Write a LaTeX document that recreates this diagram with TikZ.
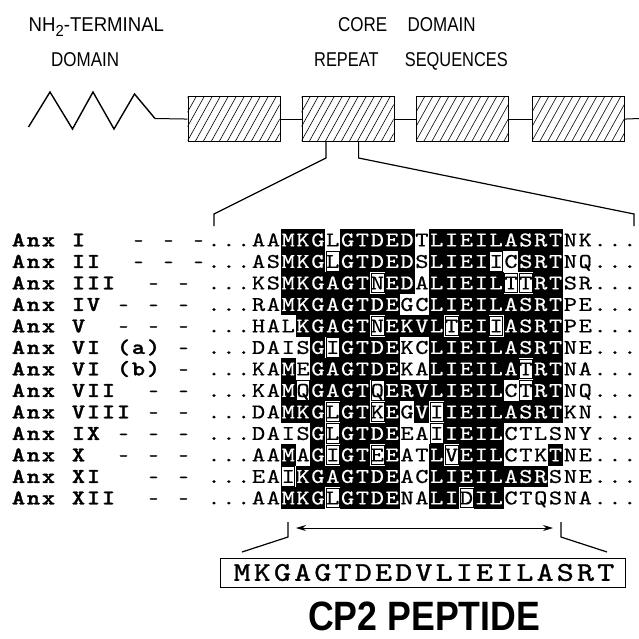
\documentclass[tikz,border=0pt]{standalone}
\usepackage{fontspec}
\usetikzlibrary{arrows.meta}
\newfontfamily\helv{Liberation Sans}
\newfontfamily\labfont{lmmonolt10-bold}[Extension=.otf, FakeBold=1.2]
\newfontfamily\seqfont{lmmono10-regular}[Extension=.otf, FakeBold=0.5]
\newfontfamily\pepfont{lmmono10-regular}[Extension=.otf, FakeBold=1.0]
\newcount\gj
\def\rk{0}
% ---- alignment cells ----
\def\seqrow#1#2#3{\global\gj=0 \def\rk{#1}\seqparse#2\relax#3\relax}
\def\seqparse#1#2\relax#3#4\relax{\seqcell{#1}{#3}\global\advance\gj by 1 \def\tmpa{#2}\ifx\tmpa\empty\else\seqparse#2\relax#4\relax\fi}
\def\seqcell#1#2{%
  \pgfmathsetmacro\cx{214+14.85*\the\gj}%
  \pgfmathsetmacro\cy{240+21.5*\rk}%
  \edef\nm{s\rk-\the\gj}%
  \if#2B\relax
    \fill[black] (\cx-7.5,\cy-10.9) rectangle (\cx+7.5,\cy+10.9);
    \node[seqw] (\nm) at (\cx,\cy) {\scalebox{1.2}[1]{#1}};
  \else
    \if#2O\relax
      \draw[obox] (\cx-6.5,\cy-9.8) rectangle (\cx+6.5,\cy+9.8);
    \fi
    \node[seqb] (\nm) at (\cx,\cy) {\scalebox{1.2}[1]{#1}};
  \fi}
% ---- labels ----
\def\labrow#1#2{\global\gj=0 \def\rk{#1}\labparse#2\relax}
\def\labparse#1#2\relax{\labcell{#1}\global\advance\gj by 1 \def\tmpa{#2}\ifx\tmpa\empty\else\labparse#2\relax\fi}
\def\labcell#1{%
  \pgfmathsetmacro\cx{18.5+15*\the\gj}%
  \pgfmathsetmacro\cy{240+21.5*\rk}%
  \edef\nm{l\rk-\the\gj}%
  \if#1_\relax\else
    \if#1-\relax\node[labd] (\nm) at (\cx,\cy) {-};\else\node[labb] (\nm) at (\cx,\cy) {\scalebox{1.2}[1]{#1}};\fi
  \fi}
% ---- peptide ----
\def\peprow#1{\global\gj=0 \pepparse#1\relax}
\def\pepparse#1#2\relax{\pepcell{#1}\global\advance\gj by 1 \def\tmpa{#2}\ifx\tmpa\empty\else\pepparse#2\relax\fi}
\def\pepcell#1{%
  \pgfmathsetmacro\cx{242.1+20.2*\the\gj}%
  \edef\nm{p\the\gj}%
  \node[pep] (\nm) at (\cx,572.5) {\scalebox{1.2}[1]{#1}};}
\tikzset{
  seqb/.style={inner sep=0pt, text height=12.8pt, text depth=0pt, font=\seqfont\fontsize{21}{21}\selectfont},
  seqw/.style={seqb, text=white},
  obox/.style={draw=black, line width=0.7pt},
  labb/.style={inner sep=0pt, text height=12.8pt, text depth=0pt, font=\labfont\fontsize{21}{21}\selectfont},
  labd/.style={inner sep=0pt, text height=12.8pt, text depth=0pt, font=\seqfont\fontsize{18}{18}\selectfont},
  pep/.style={inner sep=0pt, text height=16.5pt, text depth=0pt, font=\pepfont\fontsize{27}{27}\selectfont},
  ttl/.style={inner sep=0pt, anchor=west, text height=14.3pt, text depth=0pt, font=\helv\fontsize{20}{20}\selectfont},
  repbox/.style={draw=black, line width=1.1pt, minimum width=92pt, minimum height=45pt, inner sep=0pt, anchor=north west},
  hatch/.style={line width=0.6pt},
  conn/.style={line width=1pt},
  brk/.style={line width=1.2pt},
}
\begin{document}
\begin{tikzpicture}[x=1pt,y=-1pt]
\useasboundingbox[fill=white] (0,0) rectangle (639,638);
% titles
\node[ttl] (t1) at (28.5,24) {\scalebox{0.93}[1]{NH\raisebox{-0.28em}{\fontsize{16}{16}\selectfont 2}-TERMINAL}};
\node[ttl] (t2) at (51,59) {\scalebox{0.85}[1]{DOMAIN}};
\node[ttl] (t3) at (338,24) {\scalebox{0.85}[1]{CORE\hspace{24pt}DOMAIN}};
\node[ttl] (t4) at (314,59) {\scalebox{0.82}[1]{REPEAT\hspace{32pt}SEQUENCES}};
% domain diagram
\foreach \bx/\nm in {187.5/b1, 301.5/b2, 416/b3, 532/b4}{
  \node[repbox] (\nm) at (\bx,96) {};
  \begin{scope}
    \clip (\bx,96) rectangle ++(92,45);
    \foreach \t in {-32,-24,...,100} \draw[hatch] (\bx+\t,141) -- ++(25,-45);
  \end{scope}
}
\coordinate (z0) at (28.5,127);
\coordinate (z1) at (50,92);
\coordinate (z2) at (72.5,129);
\coordinate (z3) at (93,92);
\coordinate (z4) at (114,129);
\coordinate (z5) at (134.5,94);
\coordinate (z6) at (155,118.5);
\draw[line width=1.4pt, line join=miter] (z0) -- (z1) -- (z2) -- (z3) -- (z4) -- (z5) -- (z6);
\coordinate (endR) at (639,118.5);
\draw[conn] (z6) -- (b1.west);
\draw[conn] (b1.east) -- (b2.west);
\draw[conn] (b2.east) -- (b3.west);
\draw[conn] (b3.east) -- (b4.west);
\draw[conn] (b4.east) -- (endR);
% zoom bracket
\coordinate (ta) at (326,141);
\coordinate (tb) at (326,158);
\coordinate (tc) at (358.6,141);
\coordinate (td) at (358.6,158);
\coordinate (la) at (214,214);
\coordinate (lb) at (214,226);
\coordinate (ra) at (634,214);
\coordinate (rb) at (634,226);
\draw[brk] (ta) -- (tb) -- (la) -- (lb);
\draw[brk] (tc) -- (td) -- (ra) -- (rb);
% labels
\labrow{0}{Anx_I___-_-_-}
\labrow{1}{Anx_II__-_-_-}
\labrow{2}{Anx_III__-_-}
\labrow{3}{Anx_IV_-_-_-}
\labrow{4}{Anx_V__-_-_-}
\labrow{5}{Anx_VI_(a)_-}
\labrow{6}{Anx_VI_(b)_-}
\labrow{7}{Anx_VII__-_-}
\labrow{8}{Anx_VIII_-_-}
\labrow{9}{Anx_IX_-_-_-}
\labrow{10}{Anx_X__-_-_-}
\labrow{11}{Anx_XI___-_-}
\labrow{12}{Anx_XII__-_-}
% alignment
\seqrow{0}{...AAMKGLGTDEDTLIEILASRTNK...}{WWWWWBBBWBBBBBWBBBBBBBBBWWWWW}
\seqrow{1}{...ASMKGLGTDEDSLIEIICSRTNQ...}{WWWWWBBBOBBBBBWBBBBOWBBBWWWWW}
\seqrow{2}{...KSMKGAGTNEDALIEILTTRTSR...}{WWWWWBBBBBBOBBWBBBBBOOBBWWWWW}
\seqrow{3}{...RAMKGAGTDEGCLIEILASRTPE...}{WWWWWBBBBBBBBWWBBBBBBBBBWWWWW}
\seqrow{4}{...HALKGAGTNEKVLTEIIASRTPE...}{WWWWWWBBBBBOBBBBOBBOBBBBWWWWW}
\seqrow{5}{...DAISGIGTDEKCLIEILASRTNE...}{WWWWWWWBOBBBBWWBBBBBBBBBWWWWW}
\seqrow{6}{...KAMEGAGTDEKALIEILATRTNA...}{WWWWWBWBBBBBBWWBBBBBBOBBWWWWW}
\seqrow{7}{...KAMQGAGTQERVLIEILCTRTNQ...}{WWWWWBOBBBBOBBBBBBBBWOBBWWWWW}
\seqrow{8}{...DAMKGLGTKEGVIIEILASRTKN...}{WWWWWBBBOBBOBWBOBBBBBBBBWWWWW}
\seqrow{9}{...DAISGLGTDEEAIIEILCTLSNY...}{WWWWWWWBOBBBBWWOBBBBWWWWWWWWW}
\seqrow{10}{...AAMAGIGTEEATLVEILCTKTNE...}{WWWWWBWBOBBOBWWBOBBBWWWBWWWWW}
\seqrow{11}{...EAIKGAGTDEACLIEILASRSNE...}{WWWWWOBBBBBBBWWBBBBBBBBWWWWWW}
\seqrow{12}{...AAMKGLGTDENALIDILCTQSNA...}{WWWWWBBBOBBBBWWBBOBBWWWWWWWWW}
% peptide bracket and arrow
\coordinate (pa) at (288,522);
\coordinate (pb) at (288,537);
\coordinate (pc) at (242,552);
\coordinate (qa) at (561,522);
\coordinate (qb) at (561,537);
\coordinate (qc) at (607,552);
\draw[brk] (pa) -- (pb) -- (pc);
\draw[brk] (qa) -- (qb) -- (qc);
\coordinate (arL) at (296,528);
\coordinate (arR) at (553,528);
\draw[line width=0.9pt, {Stealth[length=10pt,width=6pt]}-{Stealth[length=10pt,width=6pt]}] (arL) -- (arR);
\node[draw=black, line width=1pt, minimum width=405pt, minimum height=29pt, inner sep=0pt] (pbox) at (422.5,572.5) {};
\peprow{MKGAGTDEDVLIEILASRT}
\node[inner sep=0pt, anchor=west, text height=29pt, text depth=0pt, font=\helv\bfseries\fontsize{41}{41}\selectfont] (cp2) at (308,616) {\scalebox{0.87}[1]{CP2 PEPTIDE}};
\end{tikzpicture}
\end{document}
